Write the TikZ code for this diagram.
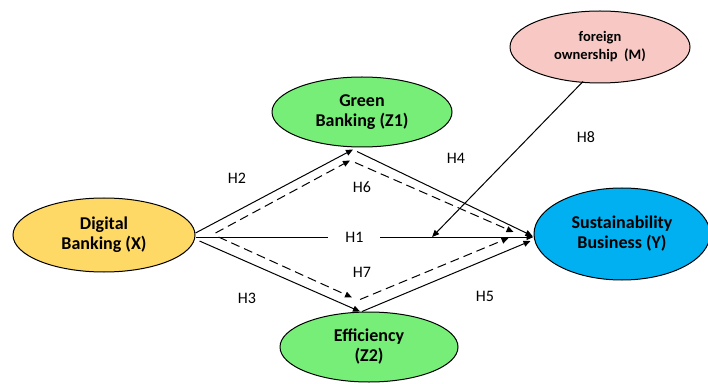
\documentclass[tikz,border=0pt]{standalone}
\usepackage{fontspec}
\setmainfont{Carlito}
\usepackage{xcolor}
\usetikzlibrary{shapes, arrows.meta, positioning}

\definecolor{digyellow}{RGB}{255,217,102}
\definecolor{greenvar}{RGB}{119,238,119}
\definecolor{modpink}{RGB}{248,201,196}
\definecolor{sustblue}{RGB}{0,176,240}

\begin{document}
\begin{tikzpicture}[x=1pt, y=1pt,
    var/.style={ellipse, draw, line width=1pt, align=center, inner sep=0pt,
        font=\bfseries\fontsize{18}{20}\selectfont},
    hyp/.style={line width=1pt, -{Triangle[length=7pt,width=6pt]}},
    hypdash/.style={hyp, dash pattern=on 9pt off 5pt},
    hlab/.style={font=\fontsize{16}{18}\selectfont}]
        \useasboundingbox (0,0) rectangle (708,383);
        % constructs
        \node[var, fill=digyellow, minimum width=182pt, minimum height=74pt] (X) at (104,148) {Digital\\Banking (X)};
        \node[var, fill=greenvar, minimum width=180pt, minimum height=70pt] (Z1) at (362,271) {Green\\Banking (Z1)};
        \node[var, fill=greenvar, minimum width=178pt, minimum height=70pt] (Z2) at (369,36) {Efficiency\\(Z2)};
        \node[var, fill=sustblue, minimum width=176pt, minimum height=92pt] (Y) at (622,149) {Sustainability\\Business (Y)};
        \node[var, fill=modpink, minimum width=180pt, minimum height=72pt,
            font=\bfseries\fontsize{14.5}{18}\selectfont] (M) at (600,336) {foreign\\ownership~~(M)};
        % paths
        \draw[hyp] ([yshift=2]X.east) -- ([xshift=-9,yshift=-2]Z1.south);
        \draw[hypdash] ([xshift=20,yshift=2]X.east) -- ([xshift=-12,yshift=-13]Z1.south);
        \draw[hyp] ([xshift=-5,yshift=-4]Z1.south) -- ([xshift=-1,yshift=-2]Y.west);
        \draw[hypdash] ([xshift=-7,yshift=-15]Z1.south) -- ([xshift=-20,yshift=2]Y.west);
        \draw[hyp, line width=0.8pt] ([yshift=-2]X.east) -- node[pos=0.47, fill=white, inner xsep=17pt, hlab] (H1) {H1}
            coordinate[pos=0.7] (mod) ([yshift=-3]Y.west);
        \draw[hypdash] ([xshift=23,yshift=-2]X.east) -- ([xshift=-17,yshift=14]Z2.north);
        \draw[hyp] ([xshift=4,yshift=-6]X.east) -- ([xshift=-9]Z2.north);
        \draw[hypdash] ([xshift=-9,yshift=12]Z2.north) -- ([xshift=-25,yshift=-4]Y.west);
        \draw[hyp] ([xshift=-7]Z2.north) -- ([xshift=-3,yshift=-7]Y.west);
        \draw[hyp] ([xshift=-17,yshift=2]M.south) -- (mod);
        % labels
        \foreach \h/\p in {H2/{(237,205)}, H6/{(362,196)}, H4/{(456,225)}, H8/{(586,246)},
                H7/{(362,111)}, H3/{(247,85)}, H5/{(485,87)}} {
            \node[hlab] (\h) at \p {\h};
        }
    \end{tikzpicture}
\end{document}
